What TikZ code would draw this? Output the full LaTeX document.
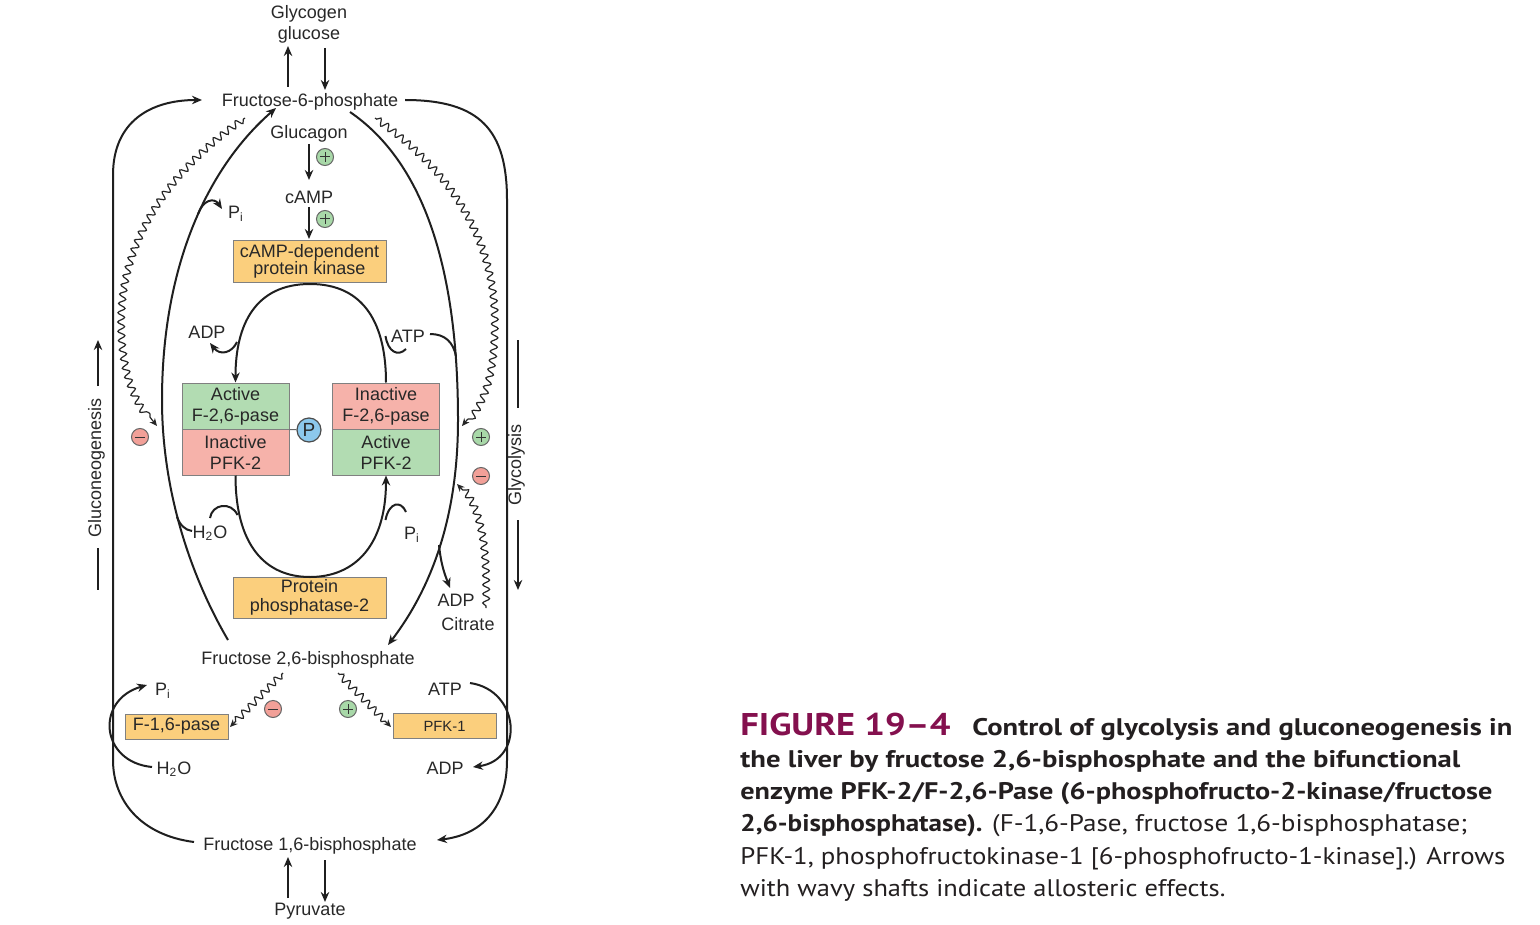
\documentclass[tikz,border=0pt]{standalone}
\usepackage{fontspec}
\setmainfont{Liberation Sans}
\newfontfamily\capfont{PT Sans}
\usetikzlibrary{arrows.meta,decorations.pathmorphing,calc}
\definecolor{boxor}{RGB}{251,207,125}
\definecolor{boxgr}{RGB}{178,220,178}
\definecolor{boxrd}{RGB}{246,178,170}
\definecolor{pblue}{RGB}{140,200,236}
\definecolor{plusg}{RGB}{168,216,168}
\definecolor{minusr}{RGB}{242,160,152}
\definecolor{txt}{RGB}{40,40,40}
\definecolor{figmag}{RGB}{132,16,78}
\definecolor{captxt}{RGB}{35,31,32}
\newlength\fitw
\newcommand\fitline[2]{\settowidth{\fitw}{#2}\pgfmathsetmacro\fitr{#1/\fitw}\scalebox{\fitr}[1]{#2}}
\begin{document}
\begin{tikzpicture}[x=0.5pt,y=-0.5pt,
  lbl/.style={font=\fontsize{9}{10.5}\selectfont, text=txt, inner sep=0.5pt, align=center, yshift=-0.8pt},
  ebox/.style={draw=black!50, line width=0.5pt, minimum width=53.5pt, minimum height=23pt, inner sep=0pt, align=center, font=\fontsize{9}{10.5}\selectfont, text=txt},
  obox/.style={ebox, fill=boxor},
  gbox/.style={ebox, fill=boxgr},
  rbox/.style={ebox, fill=boxrd},
  line/.style={line width=1pt, draw=black!88},
  flow/.style={line, -{Stealth[length=5pt,width=4.2pt]}},
  wavy/.style={line width=0.6pt, draw=black!85, decorate, decoration={snake, amplitude=1.7pt, segment length=4.6pt, pre length=1pt, post length=4pt}, -{Stealth[length=3.8pt,width=3.4pt]}},
  sign/.style={circle, draw=black!60, line width=0.5pt, minimum size=8.5pt, inner sep=0pt},
  plussign/.style={sign, fill=plusg, path picture={\draw[line width=0.5pt, black!80] ([xshift=-2.6pt]path picture bounding box.center) -- ([xshift=2.6pt]path picture bounding box.center) ([yshift=-2.6pt]path picture bounding box.center) -- ([yshift=2.6pt]path picture bounding box.center);}},
  minussign/.style={sign, fill=minusr, path picture={\draw[line width=0.5pt, black!80] ([xshift=-2.6pt]path picture bounding box.center) -- ([xshift=2.6pt]path picture bounding box.center);}},
  capn/.style={anchor=base west, inner sep=0pt, text=captxt, font=\capfont\fontsize{12}{14}\selectfont}
]
\fill[white] (0,0) rectangle (1540,925);
\useasboundingbox (0,0) rectangle (1540,925);

% ---------- text nodes ----------
\node[lbl] (glyc) at (309,23) {Glycogen\\glucose};
\node[lbl] (f6p) at (310,100) {Fructose-6-phosphate};
\node[lbl] (glucagon) at (309,132) {Glucagon};
\node[lbl] (camp) at (309,196) {cAMP};
\node[obox, minimum width=76.5pt, minimum height=21pt, font=\fontsize{9}{8.6}\selectfont] (pka) at (309.5,261) {cAMP-dependent\\protein kinase};
\node[gbox] (af26) at (235.5,406) {Active\\F-2,6-pase};
\node[rbox] (ipfk) at (235.5,452) {Inactive\\PFK-2};
\node[rbox] (if26) at (386,406) {Inactive\\F-2,6-pase};
\node[gbox] (apfk) at (386,452) {Active\\PFK-2};
\node[circle, draw=black!70, line width=0.6pt, fill=pblue, minimum size=12pt, inner sep=0pt, font=\fontsize{9.5}{10}\selectfont, text=txt] (P) at (309,430) {P};
\node[obox, minimum width=76.5pt, minimum height=20.5pt, font=\fontsize{9}{9.5}\selectfont] (pp2) at (309.5,597.5) {Protein\\phosphatase-2};
\node[lbl] (f26bp) at (308,658) {Fructose 2,6-bisphosphate};
\node[obox, minimum width=51.5pt, minimum height=12.5pt] (f16pase) at (176.5,726.5) {F-1,6-pase};
\node[obox, minimum width=51.5pt, minimum height=12.5pt, font=\fontsize{7.4}{8}\selectfont] (pfk1) at (444.5,726) {PFK-1};
\node[lbl] (f16bp) at (310,844) {Fructose 1,6-bisphosphate};
\node[lbl] (pyr) at (310,910) {Pyruvate};

\node[lbl] (pi1) at (236,212) {P\textsubscript{i}};
\node[lbl] (adp1) at (207,331) {ADP};
\node[lbl] (atp1) at (408,335) {ATP};
\node[lbl] (h2o1) at (210,532) {H\textsubscript{2}O};
\node[lbl] (pi2) at (412,533) {P\textsubscript{i}};
\node[lbl] (adp2) at (456,599) {ADP};
\node[lbl] (citrate) at (468,622) {Citrate};
\node[lbl] (pi3) at (163,689) {P\textsubscript{i}};
\node[lbl] (h2o2) at (174,768) {H\textsubscript{2}O};
\node[lbl] (atp2) at (445,688) {ATP};
\node[lbl] (adp3) at (445,767) {ADP};

\node[lbl, rotate=90, yshift=0.8pt, xshift=-0.8pt] (gng) at (98,465) {Gluconeogenesis};
\node[lbl, rotate=90, yshift=0.8pt, xshift=-0.8pt] (glycol) at (518,462) {Glycolysis};

% sign circles
\node[plussign] (s1) at (325,157) {};
\node[plussign] (s2) at (325,219) {};
\node[minussign] (s3) at (140,437) {};
\node[plussign] (s4) at (481,437) {};
\node[minussign] (s5) at (481,476) {};
\node[minussign] (s6) at (273,709) {};
\node[plussign] (s7) at (348,709) {};

% ---------- coordinates ----------
\coordinate (gUpA) at (288,87);   \coordinate (gUpB) at (288,46);
\coordinate (gDnA) at (325,48);   \coordinate (gDnB) at (325,90);
\coordinate (pUpA) at (288,898);  \coordinate (pUpB) at (288,857);
\coordinate (pDnA) at (325,860);  \coordinate (pDnB) at (325,902);
\coordinate (glA) at (309,144);   \coordinate (glB) at (309,180);
\coordinate (caA) at (309,207);   \coordinate (caB) at (309,239);
\coordinate (oL1) at (194,842);   \coordinate (oL2) at (202,100);
\coordinate (oR1) at (405,100);   \coordinate (oR2) at (437,840);
\coordinate (iL1) at (228,640);   \coordinate (iL2) at (276,108);
\coordinate (iR1) at (350,112);   \coordinate (iR2) at (388,645);
\coordinate (piB) at (198,214);   \coordinate (piT) at (222,209);
\coordinate (h2B) at (192,531);   \coordinate (h2T) at (177,517);
\coordinate (atB) at (430,334);   \coordinate (atT) at (456,356);
\coordinate (adB) at (439,545);   \coordinate (adT) at (450,588);
\coordinate (sadB) at (237,342);  \coordinate (sadT) at (210,343);
\coordinate (satB) at (406,349);  \coordinate (satT) at (385.5,336);
\coordinate (shB) at (210,518);   \coordinate (shT) at (237.5,515);
\coordinate (spB) at (406,512);   \coordinate (spT) at (385.5,520);
\coordinate (lrB) at (152,767);   \coordinate (lrT) at (147,685);
\coordinate (rrB) at (470,683);   \coordinate (rrT) at (473,767);
\coordinate (w1B) at (245,118);   \coordinate (w1T) at (157,426);
\coordinate (w2B) at (375,118);   \coordinate (w2T) at (462,426);
\coordinate (w3B) at (486,608);   \coordinate (w3T) at (457,484);
\coordinate (w4B) at (283,673);   \coordinate (w4T) at (230,727);
\coordinate (w5B) at (338,673);   \coordinate (w5T) at (391,727);
\coordinate (gnA) at (98,386);    \coordinate (gnB) at (98,340);
\coordinate (gnC) at (98,548);    \coordinate (gnD) at (98,590);
\coordinate (gyA) at (518,340);   \coordinate (gyB) at (518,408);
\coordinate (gyC) at (518,520);   \coordinate (gyD) at (518,590);

% ---------- straight arrows ----------
\draw[flow] (gUpA) -- (gUpB);
\draw[flow] (gDnA) -- (gDnB);
\draw[flow] (pUpA) -- (pUpB);
\draw[flow] (pDnA) -- (pDnB);
\draw[flow] (glA) -- (glB);
\draw[flow] (caA) -- (caB);
\draw[flow] (gnA) -- (gnB);
\draw[line] (gnC) -- (gnD);
\draw[line] (gyA) -- (gyB);
\draw[flow] (gyC) -- (gyD);

% ---------- outer loops ----------
\draw[flow] (oL1) .. controls (140,835) and (113,800) .. (113,760) -- (113,175) .. controls (113,122) and (150,100) .. (oL2);
\draw[flow] (oR1) .. controls (480,100) and (507,130) .. (507,200) -- (507,760) .. controls (507,810) and (480,835) .. (oR2);

% small reactions at F-1,6-pase and PFK-1
\draw[flow] (lrB) .. controls (100,762) and (95,700) .. (lrT);
\draw[flow] (rrB) .. controls (520,690) and (525,760) .. (rrT);

% ---------- inner big loop ----------
\draw[flow] (iL1) .. controls (190,575) and (162,490) .. (162,400) .. controls (162,270) and (205,170) .. (iL2);
\draw[flow] (iR1) .. controls (420,160) and (458,260) .. (458,420) .. controls (458,520) and (430,590) .. (iR2);
\draw[flow] (piB) .. controls (203,200) and (214,197) .. (piT);
\draw[line] (h2B) .. controls (185,530) and (180,525) .. (h2T);
\draw[line] (atB) .. controls (445,334) and (453,342) .. (atT);
\draw[flow] (adB) .. controls (441,565) and (445,575) .. (adT);

% ---------- small loop ----------
\draw[flow] (if26.north) .. controls (386,325) and (365,284) .. (310,284) .. controls (255,284) and (235.5,325) .. (af26.north);
\draw[flow] (ipfk.south) .. controls (235.5,545) and (265,577) .. (310,577) .. controls (355,577) and (386,545) .. (apfk.south);
\draw[flow] (sadB) .. controls (232,353) and (220,356) .. (sadT);
\draw[line] (satB) .. controls (398,357) and (388,352) .. (satT);
\draw[line] (shB) .. controls (212,504) and (231,501) .. (shT);
\draw[line] (spB) .. controls (401,500) and (389,502) .. (spT);
\draw[line width=0.5pt, black!60] (af26.south east) -- (P);

% ---------- wavy allosteric arrows ----------
\draw[wavy] (w1B) .. controls (170,170) and (123,240) .. (123,320) .. controls (123,370) and (135,400) .. (w1T);
\draw[wavy] (w2B) .. controls (450,170) and (493,240) .. (493,320) .. controls (493,370) and (485,400) .. (w2T);
\draw[wavy] (w3B) .. controls (487,560) and (485,510) .. (w3T);
\draw[wavy] (w4B) -- (w4T);
\draw[wavy] (w5B) -- (w5T);

% ---------- caption ----------
\node[capn] (cap1a) at (740,735) {\fitline{105}{\fontsize{15.7}{16}\selectfont\bfseries\color{figmag}FIGURE 19–4}};
\node[capn] (cap1b) at (972,735) {\fitline{270}{\bfseries Control of glycolysis and gluconeogenesis in}};
\node[capn] (cap2) at (740,767) {\fitline{360}{\bfseries the liver by fructose 2,6-bisphosphate and the bifunctional}};
\node[capn] (cap3) at (740,799) {\fitline{376}{\bfseries enzyme PFK-2/F-2,6-Pase (6-phosphofructo-2-kinase/fructose}};
\node[capn] (cap4) at (740,831) {\fitline{363.5}{{\bfseries 2,6-bisphosphatase).} (F-1,6-Pase, fructose 1,6-bisphosphatase;}};
\node[capn] (cap5) at (740,864) {\fitline{382.5}{PFK-1, phosphofructokinase-1 [6-phosphofructo-1-kinase].) Arrows}};
\node[capn] (cap6) at (740,896) {\fitline{242.5}{with wavy shafts indicate allosteric effects.}};
\end{tikzpicture}
\end{document}
